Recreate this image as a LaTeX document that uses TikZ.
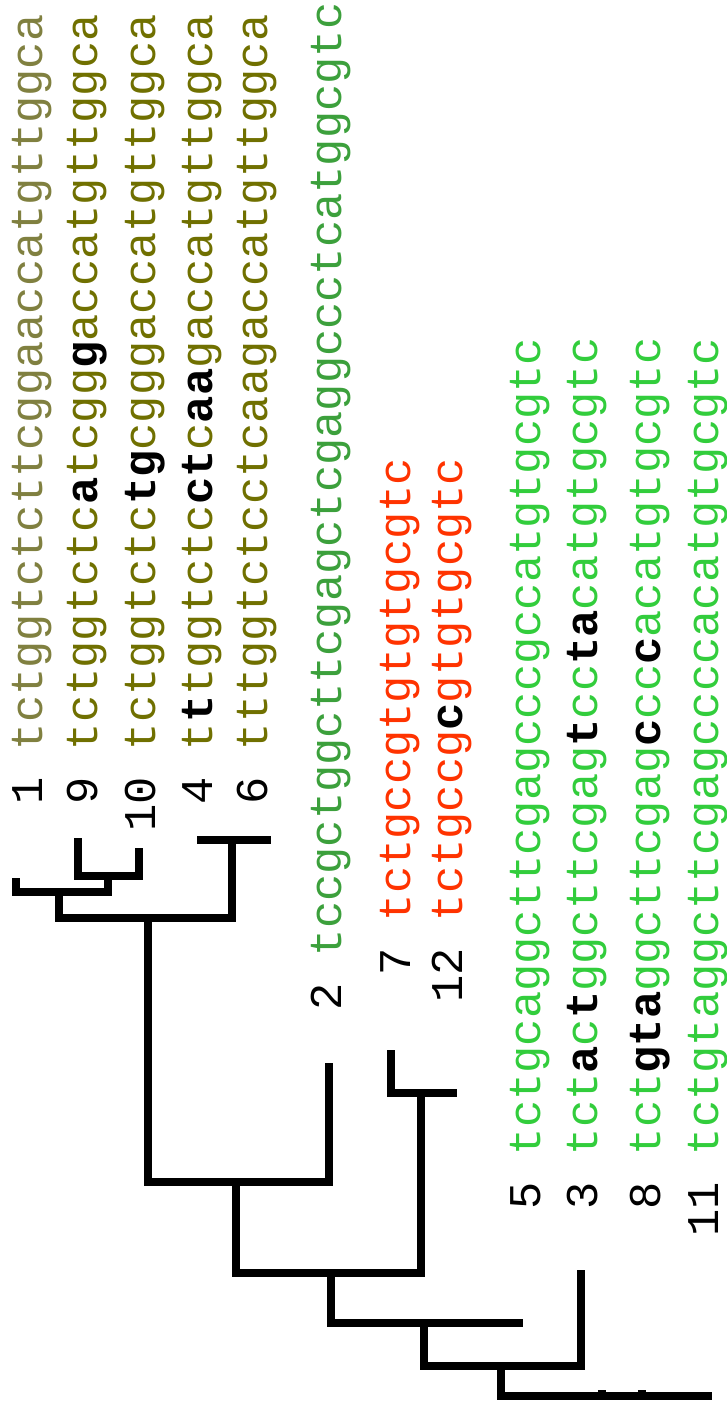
\documentclass[tikz,border=0pt]{standalone}
\usepackage{fontspec}
\newfontfamily\seqfont{Liberation Mono}
\definecolor{oliveA}{RGB}{128,128,64}
\definecolor{oliveB}{RGB}{112,112,0}
\definecolor{greenA}{RGB}{60,160,60}
\definecolor{greenB}{RGB}{50,205,60}
\definecolor{redA}{RGB}{255,51,0}
\newcommand{\sbold}[1]{\textcolor{black}{\bfseries #1}}
\tikzset{
  seqtxt/.style={rotate=90, anchor=base west, inner sep=0pt, outer sep=0pt,
    font=\seqfont\fontsize{45.4}{50}\selectfont},
  lbltxt/.style={rotate=90, anchor=base east, inner sep=0pt, outer sep=0pt,
    font=\seqfont\fontsize{45.4}{50}\selectfont, text=black},
  branch/.style={line width=8pt, line cap=rect, line join=miter, black}
}
\begin{document}
\begin{tikzpicture}[x=1pt,y=-1pt]
\useasboundingbox (0,0) rectangle (727,1412);
\fill[white] (0,0) rectangle (727,1412);
% ---------- rows: labels and sequences ----------
\def\sp{27.23}
\node[lbltxt] (l1)  at (42,750+\sp)  {1};
\node[seqtxt,text=oliveA] (s1) at (42,750) {tctggtctcttcggaaccatgttggca};
\node[lbltxt] (l9)  at (97,750+\sp)  {9};
\node[seqtxt,text=oliveB] (s9) at (97,750) {tctggtctc\sbold{a}tcgg\sbold{g}accatgttggca};
\node[lbltxt] (l10) at (155,750+\sp) {10};
\node[seqtxt,text=oliveB] (s10) at (155,750) {tctggtctc\sbold{tg}cgggaccatgttggca};
\node[lbltxt] (l4)  at (212,750+\sp) {4};
\node[seqtxt,text=oliveB] (s4) at (212,750) {t\sbold{t}tggtctc\sbold{ct}c\sbold{aa}gaccatgttggca};
\node[lbltxt] (l6)  at (267,750+\sp) {6};
\node[seqtxt,text=oliveB] (s6) at (267,750) {tttggtctcctcaagaccatgttggca};
\node[lbltxt] (l2)  at (341,956+\sp) {2};
\node[seqtxt,text=greenA] (s2) at (341,956) {tccgctggcttcgagctcgaggccctcatggcgtc};
\node[lbltxt] (l7)  at (410,921+\sp) {7};
\node[seqtxt,text=redA] (s7) at (410,921) {tctgccgtgtgtgcgtc};
\node[lbltxt] (l12) at (462,921+\sp) {12};
\node[seqtxt,text=redA] (s12) at (462,921) {tctgccg\sbold{c}gtgtgcgtc};
\node[lbltxt] (l5)  at (540,1155+\sp) {5};
\node[seqtxt,text=greenB] (s5) at (540,1155) {tctgcaggcttcgagcccgccatgtgcgtc};
\node[lbltxt] (l3)  at (597,1155+\sp) {3};
\node[seqtxt,text=greenB] (s3) at (597,1155) {tct\sbold{a}c\sbold{t}ggcttcgag\sbold{t}cc\sbold{ta}catgtgcgtc};
\node[lbltxt] (l8)  at (660,1155+\sp) {8};
\node[seqtxt,text=greenB] (s8) at (660,1155) {tct\sbold{gta}ggcttcgag\sbold{c}cc\sbold{c}acatgtgcgtc};
\node[lbltxt] (l11) at (718,1155+\sp) {11};
\node[seqtxt,text=greenB] (s11) at (718,1155) {tctgtaggcttcgagccccacatgtgcgtc};
% ---------- tree: leaf tips ----------
\coordinate (L1)  at (16,882);
\coordinate (L9)  at (77.5,842);
\coordinate (L10) at (139,852);
\coordinate (L4)  at (201,839.5);
\coordinate (L6)  at (267,839.5);
\coordinate (L2)  at (329,1067);
\coordinate (L7)  at (390.5,1054);
\coordinate (L12) at (453,1093);
\coordinate (L5)  at (519,1323);
\coordinate (L3)  at (580.5,1274);
\coordinate (L8)  at (642,1395.5);
\coordinate (L11) at (708,1395.5);
% ---------- tree: internal nodes ----------
\coordinate (N910) at (108,876);
\coordinate (N1)   at (59,892);
\coordinate (N46)  at (231.5,839.5);
\coordinate (NA)   at (148,918);
\coordinate (NB)   at (236,1181.5);
\coordinate (N712) at (421,1093);
\coordinate (NC)   at (331,1273);
\coordinate (ND)   at (424,1323);
\coordinate (NE)   at (501,1366);
\coordinate (NR)   at (602,1395.5);
% ---------- tree: branches ----------
\draw[branch] (L9) |- (N910);
\draw[branch] (L10) |- (N910);
\draw[branch] (L1) |- (N1);
\draw[branch] (N910) |- (N1);
\draw[branch] (L4) |- (N46);
\draw[branch] (L6) |- (N46);
\draw[branch] (N1) |- (NA);
\draw[branch] (N46) |- (NA);
\draw[branch] (NA) |- (NB);
\draw[branch] (L2) |- (NB);
\draw[branch] (L7) |- (N712);
\draw[branch] (L12) |- (N712);
\draw[branch] (NB) |- (NC);
\draw[branch] (N712) |- (NC);
\draw[branch] (NC) |- (ND);
\draw[branch] (L5) |- (ND);
\draw[branch] (ND) |- (NE);
\draw[branch] (L3) |- (NE);
\draw[branch] (NE) |- (NR);
\draw[branch] (L8) |- (NR);
\draw[branch] (L11) |- (NR);
% small stubs on the root bar
\fill[black] ([xshift=-4pt,yshift=3pt]NR) rectangle ([xshift=4pt,yshift=6pt]NR);
\fill[black] ([xshift=-4pt,yshift=3pt]L8) rectangle ([xshift=4pt,yshift=6pt]L8);
\end{tikzpicture}
\end{document}
